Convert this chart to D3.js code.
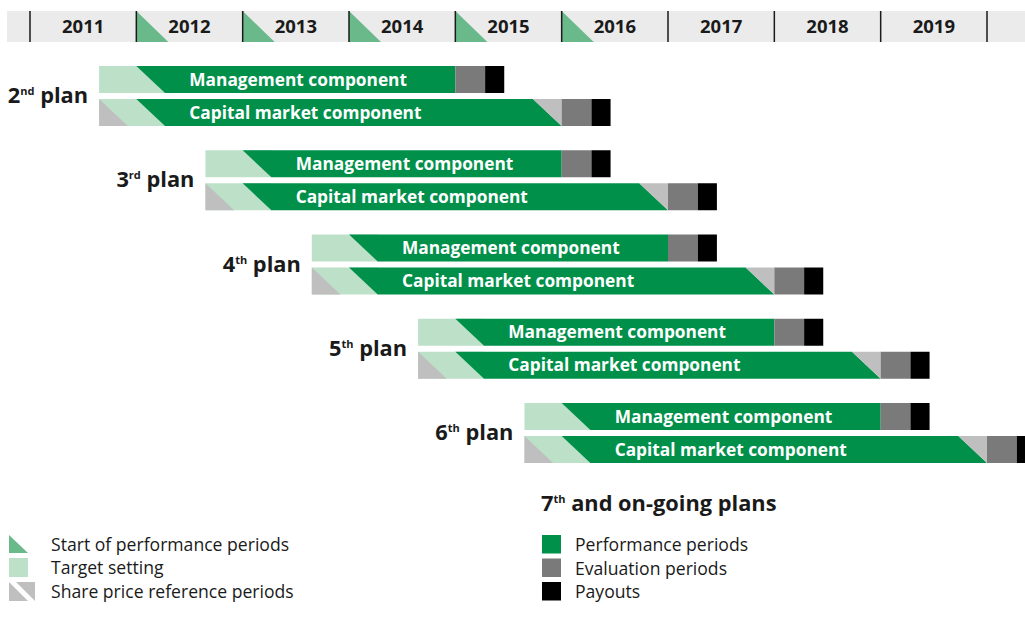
<!DOCTYPE html>
<html lang="en">
<head>
  <meta charset="utf-8">
  <title>Performance plans timeline</title>
  <script src="https://d3js.org/d3.v7.min.js"></script>
  <style>
    body { margin: 0; background: #fff; }
    svg text { font-family: "Open Sans", "Noto Sans", sans-serif; fill: #1a1a1a; }
  </style>
</head>
<body>
  <svg width="1025" height="618"></svg>
  <script>
    // ---- data ----
    var years = [2011, 2012, 2013, 2014, 2015, 2016, 2017, 2018, 2019];
    var headerStarts = [2012, 2013, 2014, 2015, 2016];   // start of performance periods
    var planNumbers = ["2", "3", "4", "5", "6"];
    var planSuffixes = ["nd", "rd", "th", "th", "th"];
    var targetStarts = [2011.65, 2012.65, 2013.65, 2014.65, 2015.65];
    var perfStarts = [2012, 2013, 2014, 2015, 2016];
    var components = ["Management component", "Capital market component"];
    var perfYears = [3, 4];            // management, capital market
    var evalYears = 0.28, payYears = 0.18, diagYears = 0.27;
    var legendLeft = ["Start of performance periods", "Target setting", "Share price reference periods"];
    var legendRight = ["Performance periods", "Evaluation periods", "Payouts"];

    var C = {
      green: "#00904a", light: "#bde0c8", start: "#6ab98a",
      gray: "#7a7a7a", lgray: "#bfbfbf", black: "#000", band: "#ebebeb"
    };

    var svg = d3.select("svg");
    var x = d3.scaleLinear().domain([2011, 2020]).range([30, 987]);
    var yPlan = d3.scaleLinear().domain([0, 4]).range([66, 403]);
    var barH = 27, rowGap = 33;
    var dpx = x(2011 + diagYears) - x(2011);

    // ---- header ----
    var hTop = 11, hBot = 42;
    svg.append("rect").attr("x", 7).attr("y", hTop).attr("width", 1018).attr("height", hBot - hTop).attr("fill", C.band);
    svg.selectAll(".htri").data(headerStarts).enter().append("path")
      .attr("d", d => `M${x(d)},${hTop}L${x(d)},${hBot}L${x(d) + 32},${hBot}Z`)
      .attr("fill", C.start);
    svg.selectAll(".hdiv").data(years.concat([2020])).enter().append("line")
      .attr("x1", d => x(d)).attr("x2", d => x(d)).attr("y1", hTop).attr("y2", hBot)
      .attr("stroke", "#1a1a1a").attr("stroke-width", 1.5);
    svg.selectAll(".hyear").data(years).enter().append("text")
      .attr("x", d => (x(d) + x(d + 1)) / 2).attr("y", 33)
      .attr("text-anchor", "middle").attr("font-weight", 700).attr("font-size", 18.5)
      .text(d => d);

    // ---- plans ----
    function poly(pts, fill) {
      svg.append("path").attr("d", "M" + pts.map(p => p.join(",")).join("L") + "Z").attr("fill", fill);
    }

    planNumbers.forEach(function(num, i) {
      var x0 = x(targetStarts[i]), xp = x(perfStarts[i]);
      components.forEach(function(label, c) {
        var top = yPlan(i) + c * rowGap, bot = top + barH;
        var xe = x(perfStarts[i] + perfYears[c]);
        var xv = x(perfStarts[i] + perfYears[c] + evalYears);
        var xpay = x(perfStarts[i] + perfYears[c] + evalYears + payYears);
        // target setting
        poly([[x0, top], [xp + dpx, top], [xp + dpx, bot], [x0, bot]], C.light);
        if (c === 1) {
          poly([[x0, top], [x0 + dpx, bot], [x0, bot]], C.lgray);
          poly([[xp, top], [xe - dpx, top], [xe, bot], [xp + dpx, bot]], C.green);
          poly([[xe - dpx, top], [xe, top], [xe, bot]], C.lgray);
        } else {
          poly([[xp, top], [xe, top], [xe, bot], [xp + dpx, bot]], C.green);
        }
        poly([[xe, top], [xv, top], [xv, bot], [xe, bot]], C.gray);
        poly([[xv, top], [xpay, top], [xpay, bot], [xv, bot]], C.black);
        svg.append("text").attr("x", xp + 53).attr("y", top + 19.5)
          .attr("font-weight", 700).attr("font-size", 17.3).style("fill", "#fff")
          .text(label);
      });
      var t = svg.append("text").attr("x", x0 - 11).attr("y", yPlan(i) + 37)
        .attr("text-anchor", "end").attr("font-weight", 700).attr("font-size", 21.8);
      t.append("tspan").text(num);
      t.append("tspan").attr("font-size", 11).attr("dy", -8).text(planSuffixes[i]);
      t.append("tspan").attr("dy", 8).text(" plan");
    });

    // ---- legend left ----
    var lg = svg.append("g");
    var ly = [535, 558, 582];
    lg.append("path").attr("d", `M9,${ly[0]}L9,${ly[0] + 18}L28,${ly[0] + 18}Z`).attr("fill", C.start);
    lg.append("rect").attr("x", 9).attr("y", ly[1]).attr("width", 19).attr("height", 19).attr("fill", C.light);
    lg.append("path").attr("d", `M9,${ly[2]}L9,${ly[2] + 19}L28,${ly[2] + 19}Z`).attr("fill", C.lgray);
    lg.append("path").attr("d", `M16,${ly[2]}L35,${ly[2]}L35,${ly[2] + 19}Z`).attr("fill", C.lgray);
    lg.selectAll("text").data(legendLeft).enter().append("text")
      .attr("x", 51).attr("y", (d, i) => ly[i] + 16)
      .attr("font-size", 17.6).text(d => d);

    // ---- legend right ----
    var rh = svg.append("text").attr("x", 541).attr("y", 511).attr("font-weight", 700).attr("font-size", 21.8);
    rh.append("tspan").text("7");
    rh.append("tspan").attr("font-size", 11).attr("dy", -8).text("th");
    rh.append("tspan").attr("dy", 8).text(" and on-going plans");
    var rFill = [C.green, C.gray, C.black];
    svg.selectAll(".rsq").data(legendRight).enter().append("rect")
      .attr("x", 542).attr("y", (d, i) => 535 + i * 23.5).attr("width", 19).attr("height", 18.5)
      .attr("fill", (d, i) => rFill[i]);
    svg.selectAll(".rlab").data(legendRight).enter().append("text")
      .attr("x", 575).attr("y", (d, i) => 551 + i * 23.5)
      .attr("font-size", 17.6).text(d => d);
  </script>
</body>
</html>
